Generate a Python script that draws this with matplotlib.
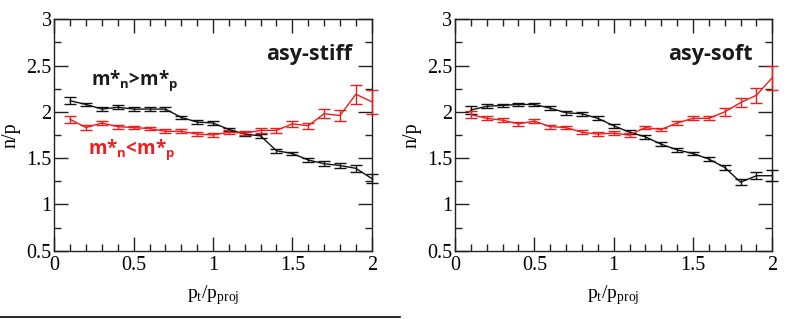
import matplotlib.pyplot as plt
import numpy as np
from matplotlib.ticker import MultipleLocator
from matplotlib.lines import Line2D

pt = np.round(np.arange(0.1, 2.01, 0.1), 1)

# asy-stiff
stiff_gt = [2.12, 2.08, 2.03, 2.05, 2.03, 2.03, 2.03, 1.94, 1.89, 1.88,
            1.81, 1.76, 1.74, 1.58, 1.55, 1.48, 1.44, 1.42, 1.39, 1.28]
stiff_gt_err = [0.04, 0.02, 0.02, 0.02, 0.02, 0.02, 0.02, 0.02, 0.02, 0.02,
                0.02, 0.02, 0.02, 0.02, 0.02, 0.02, 0.03, 0.03, 0.04, 0.05]
stiff_lt = [1.92, 1.83, 1.88, 1.84, 1.83, 1.82, 1.79, 1.79, 1.76, 1.75,
            1.78, 1.77, 1.80, 1.80, 1.87, 1.85, 1.98, 1.96, 2.19, 2.11]
stiff_lt_err = [0.04, 0.03, 0.02, 0.02, 0.02, 0.02, 0.02, 0.02, 0.02, 0.02,
                0.02, 0.02, 0.03, 0.03, 0.03, 0.03, 0.05, 0.06, 0.1, 0.13]

# asy-soft
soft_gt = [2.02, 2.06, 2.07, 2.08, 2.08, 2.04, 1.99, 1.98, 1.93, 1.85,
           1.78, 1.73, 1.65, 1.59, 1.55, 1.49, 1.40, 1.24, 1.31, 1.31]
soft_gt_err = [0.04, 0.02, 0.02, 0.02, 0.02, 0.02, 0.02, 0.02, 0.02, 0.02,
               0.02, 0.02, 0.02, 0.02, 0.02, 0.02, 0.03, 0.03, 0.04, 0.06]
soft_lt = [1.97, 1.93, 1.91, 1.87, 1.90, 1.84, 1.83, 1.78, 1.76, 1.77,
           1.75, 1.83, 1.81, 1.88, 1.93, 1.93, 2.00, 2.10, 2.18, 2.37]
soft_lt_err = [0.04, 0.02, 0.02, 0.02, 0.02, 0.02, 0.02, 0.02, 0.02, 0.02,
               0.02, 0.02, 0.02, 0.02, 0.02, 0.02, 0.04, 0.05, 0.08, 0.13]

RED = '#ee1c1c'
SERIF = 'Liberation Serif'
SANS = 'Open Sans'

fig = plt.figure(figsize=(8.03, 3.19), dpi=100)
W, H = 803, 319
boxes = [(54.3, 19.3, 371.7, 250.7), (455.0, 19.3, 772.3, 250.7)]
axs = [fig.add_axes([l / W, 1 - b / H, (r - l) / W, (b - t) / H]) for l, t, r, b in boxes]

panels = [(stiff_gt, stiff_gt_err, stiff_lt, stiff_lt_err, 'asy-stiff'),
          (soft_gt, soft_gt_err, soft_lt, soft_lt_err, 'asy-soft')]

for ax, (gt, gte, lt, lte, name) in zip(axs, panels):
    ax.errorbar(pt, gt, yerr=gte, color='#111111', lw=1.0, elinewidth=1.0,
                capsize=4, capthick=1.0, clip_on=False, zorder=3)
    ax.errorbar(pt, lt, yerr=lte, color=RED, lw=1.0, elinewidth=1.0,
                capsize=4, capthick=1.0, clip_on=False, zorder=3)
    ax.set_xlim(0, 2)
    ax.set_ylim(0.5, 3)
    ax.xaxis.set_minor_locator(MultipleLocator(0.1))
    ax.yaxis.set_minor_locator(MultipleLocator(0.25))
    ax.set_xticks([0, 0.5, 1, 1.5, 2], ['0', '0.5', '1', '1.5', '2'])
    ax.set_yticks([0.5, 1, 1.5, 2, 2.5, 3], ['0.5', '1', '1.5', '2', '2.5', '3'])
    ax.tick_params(which='both', direction='in', top=True, right=True,
                   color='#222222', width=1.0)
    ax.tick_params(which='major', length=10, labelsize=14.5)
    ax.tick_params(axis='x', which='major', pad=4)
    ax.tick_params(axis='y', which='major', pad=2)
    ax.tick_params(which='minor', length=5)
    for lab in ax.get_xticklabels() + ax.get_yticklabels():
        lab.set_family(SERIF)
    for s in ax.spines.values():
        s.set_color('#222222')
        s.set_linewidth(1.0)
    ax.set_xlabel(r'p$_\mathregular{t}$/p$_\mathregular{proj}$', family=SERIF,
                  fontsize=14, labelpad=6)
    ax.set_ylabel('n/p', family=SERIF, fontsize=14.5, labelpad=4)
    ax.text(1.875, 2.62, name, ha='right', va='center', family=SANS,
            fontweight='bold', fontsize=15.5, color='#1a1a1a')

axs[0].text(0.23, 2.34, r'm*$_\mathregular{n}$>m*$_\mathregular{p}$', ha='left',
            va='center', family=SANS, fontweight='bold', fontsize=13.5, color='#1a1a1a')
axs[0].text(0.21, 1.59, r'm*$_\mathregular{n}$<m*$_\mathregular{p}$', ha='left',
            va='center', family=SANS, fontweight='bold', fontsize=13.5, color=RED)

fig.add_artist(Line2D([0, 400 / W], [1 - 316.5 / H] * 2, color='black', lw=1.2))

fig.savefig('out.png', dpi=100)
